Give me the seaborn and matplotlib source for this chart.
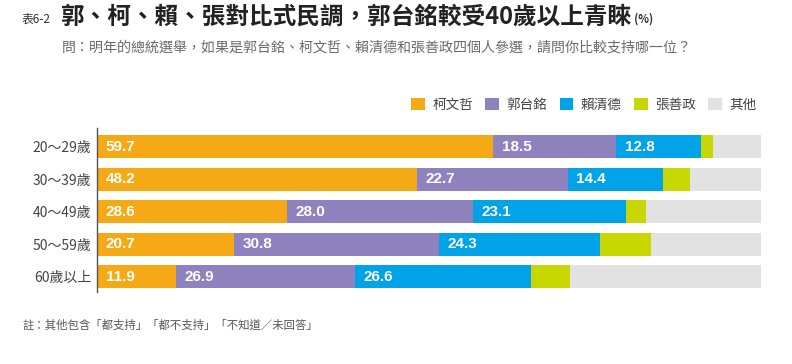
import numpy as np
import seaborn as sns
import matplotlib.pyplot as plt
from matplotlib.patches import Patch

# 年齡層與各候選人支持度(%)
ages = ["20〜29歲", "30〜39歲", "40〜49歲", "50〜59歲", "60歲以上"]
ko = [59.7, 48.2, 28.6, 20.7, 11.9]
gou = [18.5, 22.7, 28.0, 30.8, 26.9]
lai = [12.8, 14.4, 23.1, 24.3, 26.6]
chang = [1.8, 4.0, 3.0, 7.6, 5.8]
other = [100 - a - b - c - d for a, b, c, d in zip(ko, gou, lai, chang)]

names = ["柯文哲", "郭台銘", "賴清德", "張善政", "其他"]
colors = ["#F5A915", "#8E83BF", "#00A2E8", "#C9D700", "#E2E2E2"]

sns.set_style("white")
plt.rcParams['font.family'] = ['Noto Sans CJK TC', 'DejaVu Sans']

series = [ko, gou, lai, chang, other]
cum = np.cumsum(np.array(series), axis=0)

fig = plt.figure(figsize=(7.92, 3.64), dpi=100)
ax = fig.add_axes([97 / 792, 1 - 292 / 364, (761 - 97) / 792, 164 / 364])

# stacked bars: draw the longest cumulative first, then overlay
for i in range(len(series) - 1, -1, -1):
    sns.barplot(x=cum[i], y=ages, color=colors[i], orient="h", width=0.71,
                saturation=1, linewidth=0, ax=ax)

# value labels on the first three segments
for i in range(3):
    starts = cum[i] - np.array(series[i])
    for j, v in enumerate(series[i]):
        ax.text(starts[j] + 1.3, j, f"{v:.1f}", color="white", fontsize=11,
                fontweight="bold", va="center", ha="left", family="Liberation Sans")

ax.set_xlim(0, 100)
ax.set_ylim(4.47, -0.58)
ax.set_xticks([])
ax.set_xlabel("")
ax.set_ylabel("")
for s in ["top", "right", "bottom"]:
    ax.spines[s].set_visible(False)
ax.spines["left"].set_color("#555555")
ax.spines["left"].set_linewidth(1)
ax.tick_params(axis="y", length=0, pad=4, labelsize=10, labelcolor="#444444")

# titles
fig.text(22 / 792, 1 - 19 / 364, "表6-2", fontsize=8.5, color="#333333", va="center")
t = fig.text(60 / 792, 1 - 17 / 364, "郭、柯、賴、張對比式民調，郭台銘較受40歲以上青睞",
             fontsize=17, fontweight="bold", color="#222222", va="center")
fig.canvas.draw()
bb = t.get_window_extent()
fig.text(bb.x1 / 792 + 0.003, 1 - 19 / 364, "(%)", fontsize=8, fontweight="bold",
         color="#333333", va="center")
fig.text(62 / 792, 1 - 47 / 364,
         "問：明年的總統選舉，如果是郭台銘、柯文哲、賴清德和張善政四個人參選，請問你比較支持哪一位？",
         fontsize=10.1, color="#6a6a6a", va="center")

handles = [Patch(facecolor=c, edgecolor="none") for c in colors]
fig.legend(handles, names, ncol=5, loc="center right", bbox_to_anchor=(766 / 792, 1 - 105 / 364),
           frameon=False, fontsize=9.8, handlelength=1.0, handleheight=1.0,
           handletextpad=0.55, columnspacing=0.9, labelcolor="#444444",
           borderpad=0.2)

fig.text(22 / 792, 1 - 325 / 364, "註：其他包含「都支持」「都不支持」「不知道／未回答」",
         fontsize=8.2, color="#555555", va="center")

fig.savefig("out.png", dpi=100, facecolor="white")
